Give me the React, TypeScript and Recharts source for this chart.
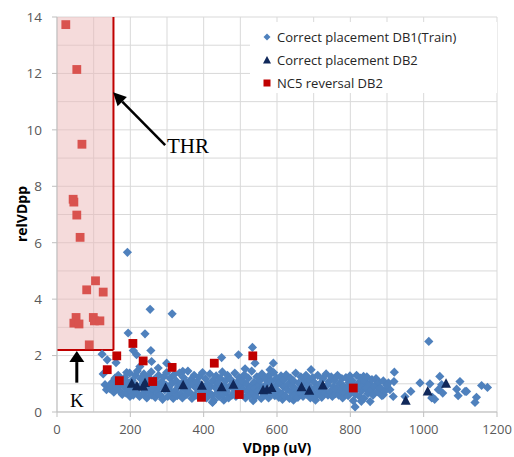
import React from "react";
import {
  ScatterChart,
  Scatter,
  XAxis,
  YAxis,
  CartesianGrid,
  ReferenceArea,
  ReferenceLine,
  ReferenceDot,
  Legend,
  Label,
} from "recharts";

// axis ticks and grid steps
const xTicks = [0, 200, 400, 600, 800, 1000, 1200];
const yTicks = [0, 2, 4, 6, 8, 10, 12, 14];
const xGrid = [0, 100, 200, 300, 400, 500, 600, 700, 800, 900, 1000, 1100, 1200];
const yGrid = [0, 1, 2, 3, 4, 5, 6, 7, 8, 9, 10, 11, 12, 13, 14];

// thresholds drawn as the shaded box
const THR = 154;
const K = 2.2;

// Correct placement DB1(Train): [VDpp, relVDpp]
const db1Train: [number, number][] = [
  [192, 5.66], [254, 3.64], [314, 3.48], [194, 2.8], [240, 2.77], [256, 2.18], [208, 2.18],
  [123, 2.05], [126, 1.35], [137, 1.85], [161, 1.75], [190, 1.4], [217, 2.03], [131, 0.97],
  [135, 0.79], [143, 0.93], [151, 1.03], [226, 1.61], [258, 1.79], [299, 1.73], [343, 1.44],
  [276, 1.56], [449, 1.93], [495, 2.03], [533, 2.29], [424, 0.34], [513, 1.53], [540, 1.73],
  [590, 1.73], [581, 1.5], [693, 1.5], [836, 1.26], [813, 0.18], [1014, 2.5], [920, 1.41],
  [965, 0.73], [990, 1.03], [1017, 1.0], [1024, 0.52], [1044, 1.26], [1049, 0.97], [1052, 0.67],
  [1099, 1.08], [1094, 0.58], [1113, 0.73], [1144, 0.52], [1140, 0.34], [1158, 0.94], [1174, 0.87],
  [919, 1.08], [908, 0.79], [949, 0.55], [1022, 0.5], [1040, 0.79], [1090, 0.81], [1117, 0.73],
  [854, 0.37], [872, 1.14], [904, 1.03], [890, 0.61], [917, 0.55], [881, 0.85], [425, 0.36],
  [455, 0.42], [535, 0.4], [615, 0.45], [645, 0.42], [705, 0.42], [830, 0.38], [1030, 0.45],
  [145, 0.82], [150, 1.05], [155, 0.7], [158, 1.2], [148, 0.95],
  [163, 0.88], [167, 1.3], [170, 0.75], [174, 1.0], [178, 0.62], [176, 1.15],
  [182, 0.9], [185, 1.22], [188, 0.68], [192, 1.05], [195, 0.8], [198, 1.38], [199, 0.55],
  [202, 0.75], [205, 1.12], [208, 0.6], [211, 0.95], [214, 1.3], [217, 0.7], [219, 1.45],
  [222, 0.85], [225, 0.55], [228, 1.18], [231, 0.98], [234, 0.65], [237, 1.35], [239, 0.8],
  [242, 1.05], [245, 0.5], [248, 1.25], [251, 0.72], [254, 0.92], [257, 1.42], [259, 0.6],
  [262, 0.82], [265, 1.15], [268, 0.52], [271, 1.0], [274, 0.7], [277, 1.3], [279, 0.88],
  [282, 0.6], [285, 1.08], [288, 0.45], [291, 1.25], [294, 0.78], [297, 0.95], [299, 1.4],
  [302, 0.55], [305, 0.85], [308, 1.2], [311, 0.68], [314, 1.02], [317, 0.48], [319, 1.32],
  [322, 0.75], [325, 1.1], [328, 0.58], [331, 0.92], [334, 1.38], [337, 0.65], [339, 1.0],
  [342, 0.5], [345, 1.22], [348, 0.8], [351, 1.05], [354, 0.62], [357, 1.45], [359, 0.9],
  [362, 0.7], [365, 1.15], [368, 0.48], [371, 0.98], [374, 1.3], [377, 0.6], [379, 0.85],
  [382, 1.08], [385, 0.55], [388, 1.25], [391, 0.75], [394, 0.95], [397, 1.4], [399, 0.65],
  [402, 0.82], [405, 1.18], [408, 0.5], [411, 1.0], [414, 0.7], [417, 1.35], [419, 0.9],
  [422, 0.6], [425, 1.12], [428, 0.42], [431, 0.88], [434, 1.28], [437, 0.68], [439, 1.02],
  [442, 0.55], [445, 1.2], [448, 0.78], [451, 1.42], [454, 0.62], [457, 0.95], [459, 1.1],
  [462, 0.72], [465, 1.3], [468, 0.5], [471, 0.9], [474, 1.15], [477, 0.6], [479, 1.02],
  [482, 0.82], [485, 1.38], [488, 0.55], [491, 1.05], [494, 0.7], [497, 1.22], [499, 0.92],
  [502, 0.62], [505, 1.1], [508, 0.8], [511, 1.32], [514, 0.5], [517, 0.98], [519, 0.72],
  [522, 1.2], [525, 0.58], [528, 0.88], [531, 1.45], [534, 0.68], [537, 1.05], [539, 0.82],
  [542, 0.55], [545, 1.25], [548, 0.75], [551, 0.95], [554, 1.12], [557, 0.48], [559, 1.35],
  [562, 0.88], [565, 0.62], [568, 1.18], [571, 0.72], [574, 1.02], [577, 0.5], [579, 1.3],
  [582, 0.68], [585, 1.1], [588, 0.85], [591, 1.4], [594, 0.58], [597, 0.95], [599, 1.2],
  [602, 0.75], [605, 0.52], [608, 1.05], [611, 1.28], [614, 0.65], [617, 0.9], [619, 1.15],
  [622, 0.58], [625, 1.32], [628, 0.8], [631, 1.0], [634, 0.48], [637, 1.2], [639, 0.7],
  [642, 0.92], [645, 1.1], [648, 0.6], [651, 1.38], [654, 0.78], [657, 0.52], [659, 1.02],
  [662, 0.68], [665, 1.25], [668, 0.85], [671, 0.55], [674, 1.08], [677, 0.75], [679, 1.3],
  [682, 0.62], [685, 0.95], [688, 1.15], [691, 0.5], [694, 0.82], [697, 1.22], [699, 0.7],
  [702, 1.05], [705, 0.58], [708, 0.88], [711, 1.3], [714, 0.65], [717, 1.0], [719, 0.78],
  [722, 0.52], [725, 1.18], [728, 0.85], [731, 0.68], [734, 1.35], [737, 0.95], [739, 0.6],
  [742, 1.08], [745, 0.72], [748, 1.25], [751, 0.55], [754, 0.9], [757, 1.12], [759, 0.65],
  [762, 0.82], [765, 1.3], [768, 0.6], [771, 1.0], [774, 0.75], [777, 1.18], [779, 0.5],
  [782, 0.92], [785, 0.68], [788, 1.22], [791, 0.85], [794, 0.58], [797, 1.05], [799, 1.28],
  [802, 0.72], [805, 1.12], [808, 0.4], [811, 0.95], [814, 0.62], [817, 1.3], [819, 0.8],
  [822, 1.02], [825, 0.55], [828, 1.2], [831, 0.75], [834, 0.9], [837, 0.48], [839, 1.1],
  [842, 0.85], [845, 1.25], [848, 0.65], [852, 1.0], [856, 0.78], [859, 1.15],
  [862, 0.6], [866, 0.92], [870, 1.18], [874, 0.72], [878, 1.05],
  [882, 0.85], [886, 0.58], [890, 1.1], [895, 0.75], [899, 0.95],
];

// Correct placement DB2
const db2Correct: [number, number][] = [
  [204, 1.0], [218, 0.91], [235, 0.9], [240, 1.03], [296, 0.85], [344, 0.95], [395, 0.93],
  [449, 0.88], [481, 0.97], [562, 0.77], [573, 0.79], [585, 0.85], [667, 0.88], [688, 0.75],
  [725, 0.94], [951, 0.4], [1011, 0.73], [1061, 1.0],
];

// NC5 reversal DB2
const nc5Reversal: [number, number][] = [
  [24, 13.73], [54, 12.14], [68, 9.49], [44, 7.54], [46, 7.44], [54, 6.98], [63, 6.19],
  [105, 4.65], [81, 4.33], [126, 4.25], [52, 3.35], [46, 3.15], [60, 3.12], [99, 3.35],
  [102, 3.23], [117, 3.23], [88, 2.38], [163, 1.99], [137, 1.5], [170, 1.11], [207, 2.43],
  [235, 1.81], [261, 1.08], [314, 1.58], [394, 0.52], [429, 1.73], [497, 0.62], [534, 1.99],
  [808, 0.85],
];

const BLUE = "#4F81BD";
const NAVY = "#10285A";
const RED = "#C00000";
const RED_IN_BOX = "#D9534F";

const toPoints = (rows: [number, number][]) => rows.map(([x, y]) => ({ x, y }));

const Diamond = (p: any) => {
  const { cx, cy } = p;
  const r = 4.6;
  return <polygon points={`${cx},${cy - r} ${cx + r},${cy} ${cx},${cy + r} ${cx - r},${cy}`} fill={BLUE} />;
};

const Triangle = (p: any) => {
  const { cx, cy } = p;
  return <polygon points={`${cx},${cy - 5.5} ${cx + 5},${cy + 4} ${cx - 5},${cy + 4}`} fill={NAVY} />;
};

const Square = (p: any) => {
  const { cx, cy, payload } = p;
  const inside = payload && payload.x < THR && payload.y > K;
  return <rect x={cx - 4.4} y={cy - 4.4} width={8.8} height={8.8} fill={inside ? RED_IN_BOX : RED} />;
};

const Arrow = (p: any) => {
  const { x1, y1, x2, y2, stroke, strokeWidth, head = 12, wing = 6 } = p;
  const ang = Math.atan2(y2 - y1, x2 - x1);
  const bx = x2 - head * Math.cos(ang);
  const by = y2 - head * Math.sin(ang);
  const nx = -Math.sin(ang) * wing;
  const ny = Math.cos(ang) * wing;
  return (
    <g>
      <line x1={x1} y1={y1} x2={bx} y2={by} stroke={stroke} strokeWidth={strokeWidth} />
      <polygon points={`${x2},${y2} ${bx + nx},${by + ny} ${bx - nx},${by - ny}`} fill={stroke} />
    </g>
  );
};

const legendItems = [
  { name: "Correct placement DB1(Train)", kind: "diamond", color: BLUE },
  { name: "Correct placement DB2", kind: "triangle", color: NAVY },
  { name: "NC5 reversal DB2", kind: "square", color: RED },
];

const LegendBox = () => (
  <div style={{ background: "#fff", width: 247, height: 71, paddingTop: 3, boxSizing: "border-box" }}>
    {legendItems.map((it) => (
      <div
        key={it.name}
        style={{ display: "flex", alignItems: "center", height: 23, fontFamily: "Open Sans", fontSize: 13, color: "#262626" }}
      >
        <svg width={27} height={12} style={{ flex: "none" }}>
          {it.kind === "diamond" && <polygon points="17,2.5 20.5,6 17,9.5 13.5,6" fill={it.color} />}
          {it.kind === "triangle" && <polygon points="17,2 21,9.5 13,9.5" fill={it.color} />}
          {it.kind === "square" && <rect x={13.5} y={2.5} width={7} height={7} fill={it.color} />}
        </svg>
        <span style={{ whiteSpace: "nowrap" }}>{it.name}</span>
      </div>
    ))}
  </div>
);

const tickStyle = { fontFamily: "Open Sans", fontSize: 13, fill: "#595959" };
const titleStyle = { fontFamily: "Open Sans", fontSize: 14, fontWeight: "bold", fill: "#000" };

export default function App() {
  return (
    <div style={{ position: "absolute", left: 0, top: 0 }}>
      <ScatterChart width={514} height={457} margin={{ top: 17, right: 17, bottom: 0, left: 0 }}>
        <CartesianGrid stroke="#D9D9D9" horizontalValues={yGrid} verticalValues={xGrid} />
        <XAxis
          type="number"
          dataKey="x"
          domain={[0, 1200]}
          ticks={xTicks}
          height={45}
          tick={tickStyle}
          tickSize={5}
          tickMargin={8}
          axisLine={{ stroke: "#BFBFBF" }}
          tickLine={{ stroke: "#BFBFBF" }}
        >
          <Label
            content={() => (
              <text x={277} y={447.5} textAnchor="middle" dominantBaseline="central" style={titleStyle}>
                VDpp (uV)
              </text>
            )}
          />
        </XAxis>
        <YAxis
          type="number"
          dataKey="y"
          domain={[0, 14]}
          ticks={yTicks}
          width={57}
          tick={{ ...tickStyle, fontSize: 13.5 }}
          tickSize={5}
          tickMargin={10}
          axisLine={{ stroke: "#BFBFBF" }}
          tickLine={{ stroke: "#BFBFBF" }}
        >
          <Label
            content={() => (
              <text
                x={21}
                y={214}
                transform="rotate(-90 21 214)"
                textAnchor="middle"
                dominantBaseline="central"
                style={titleStyle}
              >
                relVDpp
              </text>
            )}
          />
        </YAxis>
        <Legend
          layout="horizontal"
          verticalAlign="middle"
          align="center"
          content={() => <LegendBox />}
          wrapperStyle={{ left: 250, top: 22, width: 247, height: 71 }}
        />
        <Scatter name="Correct placement DB1(Train)" data={toPoints(db1Train)} shape={Diamond} isAnimationActive={false} />
        <Scatter name="Correct placement DB2" data={toPoints(db2Correct)} shape={Triangle} isAnimationActive={false} />
        <Scatter name="NC5 reversal DB2" data={toPoints(nc5Reversal)} shape={Square} isAnimationActive={false} />
        <ReferenceArea x1={0} x2={THR} y1={K} y2={14} fill="#EBB8B8" fillOpacity={0.5} stroke="none" />
        <ReferenceLine segment={[{ x: THR, y: K }, { x: THR, y: 14 }]} stroke={RED} strokeWidth={2} />
        <ReferenceLine segment={[{ x: 0, y: K }, { x: THR, y: K }]} stroke={RED} strokeWidth={2} />
        <ReferenceLine
          segment={[{ x: 295, y: 9.46 }, { x: 153, y: 11.33 }]}
          stroke="#000"
          strokeWidth={2.5}
          shape={(p: any) => <Arrow {...p} stroke="#000" strokeWidth={2.5} head={13} wing={6.5} />}
        />
        <ReferenceLine
          segment={[{ x: 54, y: 1.04 }, { x: 54, y: 2.16 }]}
          stroke="#000"
          strokeWidth={3}
          shape={(p: any) => <Arrow {...p} stroke="#000" strokeWidth={3} head={11} wing={7.5} />}
        />
        <ReferenceDot
          x={300}
          y={9.18}
          r={0}
          shape={(p: any) => (
            <text x={p.cx} y={p.cy} textAnchor="start" style={{ fontFamily: "Liberation Serif", fontSize: 21, fill: "#000" }}>
              THR
            </text>
          )}
        />
        <ReferenceDot
          x={54}
          y={0.19}
          r={0}
          shape={(p: any) => (
            <text x={p.cx} y={p.cy} textAnchor="middle" style={{ fontFamily: "Liberation Serif", fontSize: 19, fill: "#000" }}>
              K
            </text>
          )}
        />
      </ScatterChart>
    </div>
  );
}
